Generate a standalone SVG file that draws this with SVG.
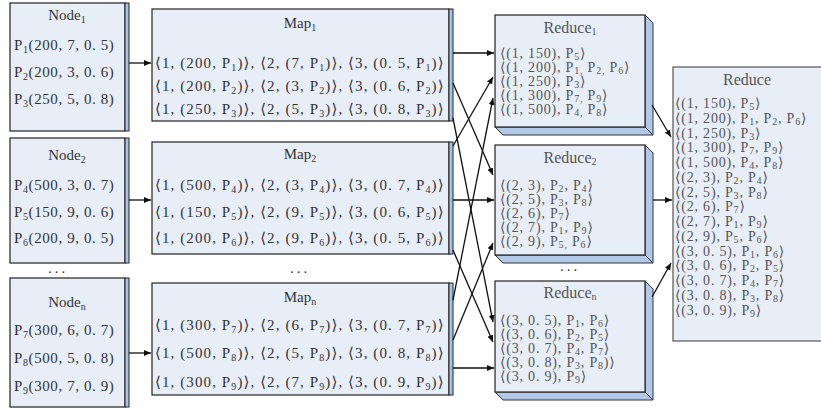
<svg xmlns="http://www.w3.org/2000/svg" width="821" height="410" viewBox="0 0 821 410">
<defs>
<marker id="ah" markerWidth="8" markerHeight="8" refX="7" refY="4" orient="auto" markerUnits="userSpaceOnUse">
<path d="M0,1 L7,4 L0,7 Z" fill="#111"/>
</marker>
<style>
.box{fill:#e8eef8;stroke:#222;stroke-width:1.2}
.strip{fill:#a9c1e3;stroke:#222;stroke-width:1}
.ext{fill:#b3c7e8;stroke:#333;stroke-width:1}
.fbox{fill:#e8eef8;stroke:#555;stroke-width:1.2}
.t{font-family:"Liberation Serif","DejaVu Serif",serif;font-size:15px;fill:#333}
.row{letter-spacing:1.1px}
.nrow{letter-spacing:0.6px}
.rt{font-family:"Liberation Serif","DejaVu Serif",serif;font-size:14px;fill:#555;letter-spacing:0.8px}
.rh{font-family:"Liberation Serif","DejaVu Serif",serif;font-size:16px;fill:#555}
.ttl{text-anchor:middle}
.sb{font-size:10px;baseline-shift:-3px}
.rsb{font-size:10px;baseline-shift:-2px}
.con{fill:none;stroke:#111;stroke-width:1.3;marker-end:url(#ah)}
.dots{font-family:"Liberation Serif",serif;font-size:15px;fill:#333;text-anchor:middle;letter-spacing:3px}
</style>
</defs>

<g id="node1">
<rect class="box" x="10" y="3" width="115" height="128"/>
<rect class="strip" x="125" y="3" width="4" height="128"/>
<text class="t ttl" x="67" y="20">Node<tspan class="sb">1</tspan></text>
<text class="t nrow" x="14" y="50">P<tspan class="sb">1</tspan>(200, 7, 0. 5)</text>
<text class="t nrow" x="14" y="77">P<tspan class="sb">2</tspan>(200, 3, 0. 6)</text>
<text class="t nrow" x="14" y="104">P<tspan class="sb">3</tspan>(250, 5, 0. 8)</text>
</g>

<g id="node2">
<rect class="box" x="10" y="138" width="115" height="125"/>
<rect class="strip" x="125" y="138" width="4" height="125"/>
<text class="t ttl" x="67" y="160">Node<tspan class="sb">2</tspan></text>
<text class="t nrow" x="14" y="190">P<tspan class="sb">4</tspan>(500, 3, 0. 7)</text>
<text class="t nrow" x="14" y="217">P<tspan class="sb">5</tspan>(150, 9, 0. 6)</text>
<text class="t nrow" x="14" y="243">P<tspan class="sb">6</tspan>(200, 9, 0. 5)</text>
</g>

<g id="noden">
<rect class="box" x="10" y="278" width="115" height="129"/>
<rect class="strip" x="125" y="278" width="4" height="129"/>
<text class="t ttl" x="67" y="307">Node<tspan class="sb">n</tspan></text>
<text class="t nrow" x="14" y="335">P<tspan class="sb">7</tspan>(300, 6, 0. 7)</text>
<text class="t nrow" x="14" y="363">P<tspan class="sb">8</tspan>(500, 5, 0. 8)</text>
<text class="t nrow" x="14" y="391">P<tspan class="sb">9</tspan>(300, 7, 0. 9)</text>
</g>

<g id="map1">
<rect class="box" x="152" y="9" width="297" height="112"/>
<rect class="strip" x="449" y="9" width="4" height="112"/>
<text class="t ttl" x="300" y="28">Map<tspan class="sb">1</tspan></text>
<text class="t row" x="155" y="68">⟨1, (200, P<tspan class="sb">1</tspan>)⟩, ⟨2, (7, P<tspan class="sb">1</tspan>)⟩, ⟨3, (0. 5, P<tspan class="sb">1</tspan>)⟩</text>
<text class="t row" x="155" y="91">⟨1, (200, P<tspan class="sb">2</tspan>)⟩, ⟨2, (3, P<tspan class="sb">2</tspan>)⟩, ⟨3, (0. 6, P<tspan class="sb">2</tspan>)⟩</text>
<text class="t row" x="155" y="114">⟨1, (250, P<tspan class="sb">3</tspan>)⟩, ⟨2, (5, P<tspan class="sb">3</tspan>)⟩, ⟨3, (0. 8, P<tspan class="sb">3</tspan>)⟩</text>
</g>

<g id="map2">
<rect class="box" x="152" y="142" width="297" height="112"/>
<rect class="strip" x="449" y="142" width="4" height="112"/>
<text class="t ttl" x="300" y="159">Map<tspan class="sb">2</tspan></text>
<text class="t row" x="155" y="190">⟨1, (500, P<tspan class="sb">4</tspan>)⟩, ⟨2, (3, P<tspan class="sb">4</tspan>)⟩, ⟨3, (0. 7, P<tspan class="sb">4</tspan>)⟩</text>
<text class="t row" x="155" y="217">⟨1, (150, P<tspan class="sb">5</tspan>)⟩, ⟨2, (9, P<tspan class="sb">5</tspan>)⟩, ⟨3, (0. 6, P<tspan class="sb">5</tspan>)⟩</text>
<text class="t row" x="155" y="243">⟨1, (200, P<tspan class="sb">6</tspan>)⟩, ⟨2, (9, P<tspan class="sb">6</tspan>)⟩, ⟨3, (0. 5, P<tspan class="sb">6</tspan>)⟩</text>
</g>

<g id="mapn">
<rect class="box" x="152" y="283" width="297" height="112"/>
<rect class="strip" x="449" y="283" width="4" height="112"/>
<text class="t ttl" x="300" y="302">Map<tspan class="sb">n</tspan></text>
<text class="t row" x="155" y="330">⟨1, (300, P<tspan class="sb">7</tspan>)⟩, ⟨2, (6, P<tspan class="sb">7</tspan>)⟩, ⟨3, (0. 7, P<tspan class="sb">7</tspan>)⟩</text>
<text class="t row" x="155" y="358">⟨1, (500, P<tspan class="sb">8</tspan>)⟩, ⟨2, (5, P<tspan class="sb">8</tspan>)⟩, ⟨3, (0. 8, P<tspan class="sb">8</tspan>)⟩</text>
<text class="t row" x="155" y="387">⟨1, (300, P<tspan class="sb">9</tspan>)⟩, ⟨2, (7, P<tspan class="sb">9</tspan>)⟩, ⟨3, (0. 9, P<tspan class="sb">9</tspan>)⟩</text>
</g>

<g id="reduce1">
<polygon class="ext" points="645,15 653,23 653,135 645,127"/>
<polygon class="ext" points="495,127 645,127 653,135 503,135"/>
<rect class="box" x="495" y="15" width="150" height="112"/>
<text class="rh ttl" x="570" y="33">Reduce<tspan class="rsb">1</tspan></text>
<text class="rt" x="500" y="58">⟨(1, 150), P<tspan class="rsb">5</tspan>⟩</text>
<text class="rt" x="500" y="72">⟨(1, 200), P<tspan class="rsb">1,</tspan> P<tspan class="rsb">2,</tspan> P<tspan class="rsb">6</tspan>⟩</text>
<text class="rt" x="500" y="86">⟨(1, 250), P<tspan class="rsb">3</tspan>⟩</text>
<text class="rt" x="500" y="100">⟨(1, 300), P<tspan class="rsb">7,</tspan> P<tspan class="rsb">9</tspan>⟩</text>
<text class="rt" x="500" y="114">⟨(1, 500), P<tspan class="rsb">4,</tspan> P<tspan class="rsb">8</tspan>⟩</text>
</g>

<g id="reduce2">
<polygon class="ext" points="645,145 653,153 653,263 645,255"/>
<polygon class="ext" points="495,255 645,255 653,263 503,263"/>
<rect class="box" x="495" y="145" width="150" height="110"/>
<text class="rh ttl" x="570" y="163">Reduce<tspan class="rsb">2</tspan></text>
<text class="rt" x="500" y="190">⟨(2, 3), P<tspan class="rsb">2</tspan>, P<tspan class="rsb">4</tspan>⟩</text>
<text class="rt" x="500" y="204">⟨(2, 5), P<tspan class="rsb">3</tspan>, P<tspan class="rsb">8</tspan>⟩</text>
<text class="rt" x="500" y="218">⟨(2, 6), P<tspan class="rsb">7</tspan>⟩</text>
<text class="rt" x="500" y="232">⟨(2, 7), P<tspan class="rsb">1</tspan>, P<tspan class="rsb">9</tspan>⟩</text>
<text class="rt" x="500" y="246">⟨(2, 9), P<tspan class="rsb">5,</tspan> P<tspan class="rsb">6</tspan>⟩</text>
</g>

<g id="reducen">
<polygon class="ext" points="645,281 653,289 653,400 645,392"/>
<polygon class="ext" points="495,392 645,392 653,400 503,400"/>
<rect class="box" x="495" y="281" width="150" height="111"/>
<text class="rh ttl" x="570" y="298">Reduce<tspan class="rsb">n</tspan></text>
<text class="rt" x="500" y="325">⟨(3, 0. 5), P<tspan class="rsb">1</tspan>, P<tspan class="rsb">6</tspan>⟩</text>
<text class="rt" x="500" y="339">⟨(3, 0. 6), P<tspan class="rsb">2</tspan>, P<tspan class="rsb">5</tspan>⟩</text>
<text class="rt" x="500" y="353">⟨(3, 0. 7), P<tspan class="rsb">4</tspan>, P<tspan class="rsb">7</tspan>⟩</text>
<text class="rt" x="500" y="367">⟨(3, 0. 8), P<tspan class="rsb">3</tspan>, P<tspan class="rsb">8</tspan>)⟩</text>
<text class="rt" x="500" y="381">⟨(3, 0. 9), P<tspan class="rsb">9</tspan>⟩</text>
</g>

<g id="reduce">
<rect class="fbox" x="673" y="67" width="150" height="274"/>
<text class="rh ttl" x="747" y="85">Reduce</text>
<text class="rt" x="675" y="108">⟨(1, 150), P<tspan class="rsb">5</tspan>⟩</text>
<text class="rt" x="675" y="122.7">⟨(1, 200), P<tspan class="rsb">1</tspan>, P<tspan class="rsb">2</tspan>, P<tspan class="rsb">6</tspan>⟩</text>
<text class="rt" x="675" y="137.5">⟨(1, 250), P<tspan class="rsb">3</tspan>⟩</text>
<text class="rt" x="675" y="152.2">⟨(1, 300), P<tspan class="rsb">7</tspan>, P<tspan class="rsb">9</tspan>⟩</text>
<text class="rt" x="675" y="167">⟨(1, 500), P<tspan class="rsb">4</tspan>, P<tspan class="rsb">8</tspan>⟩</text>
<text class="rt" x="675" y="181.7">⟨(2, 3), P<tspan class="rsb">2</tspan>, P<tspan class="rsb">4</tspan>⟩</text>
<text class="rt" x="675" y="196.5">⟨(2, 5), P<tspan class="rsb">3</tspan>, P<tspan class="rsb">8</tspan>⟩</text>
<text class="rt" x="675" y="211.2">⟨(2, 6), P<tspan class="rsb">7</tspan>⟩</text>
<text class="rt" x="675" y="226">⟨(2, 7), P<tspan class="rsb">1</tspan>, P<tspan class="rsb">9</tspan>⟩</text>
<text class="rt" x="675" y="240.7">⟨(2, 9), P<tspan class="rsb">5</tspan>, P<tspan class="rsb">6</tspan>⟩</text>
<text class="rt" x="675" y="255.5">⟨(3, 0. 5), P<tspan class="rsb">1</tspan>, P<tspan class="rsb">6</tspan>⟩</text>
<text class="rt" x="675" y="270.2">⟨(3, 0. 6), P<tspan class="rsb">2</tspan>, P<tspan class="rsb">5</tspan>⟩</text>
<text class="rt" x="675" y="285">⟨(3, 0. 7), P<tspan class="rsb">4</tspan>, P<tspan class="rsb">7</tspan>⟩</text>
<text class="rt" x="675" y="299.7">⟨(3, 0. 8), P<tspan class="rsb">3</tspan>, P<tspan class="rsb">8</tspan>⟩</text>
<text class="rt" x="675" y="314.5">⟨(3, 0. 9), P<tspan class="rsb">9</tspan>⟩</text>
</g>

<g id="ellipses">
<text class="dots" x="58" y="273">...</text>
<text class="dots" x="300" y="273">...</text>
<text class="dots" x="570" y="271">...</text>
</g>

<g id="connectors">
<path class="con" d="M129,63 H151"/>
<path class="con" d="M129,200 H151"/>
<path class="con" d="M129,353 H151"/>
<path class="con" d="M453,53 H494"/>
<path class="con" d="M453,83 L493,175"/>
<path class="con" d="M453,118 L493,322"/>
<path class="con" d="M453,146 L493,77"/>
<path class="con" d="M453,200 H494"/>
<path class="con" d="M453,250 L493,342"/>
<path class="con" d="M453,300 L493,98"/>
<path class="con" d="M453,340 L493,243"/>
<path class="con" d="M453,368 H494"/>
<path class="con" d="M652,105 L671,137"/>
<path class="con" d="M653,200 H672"/>
<path class="con" d="M652,297 L671,263"/>
</g>
</svg>
